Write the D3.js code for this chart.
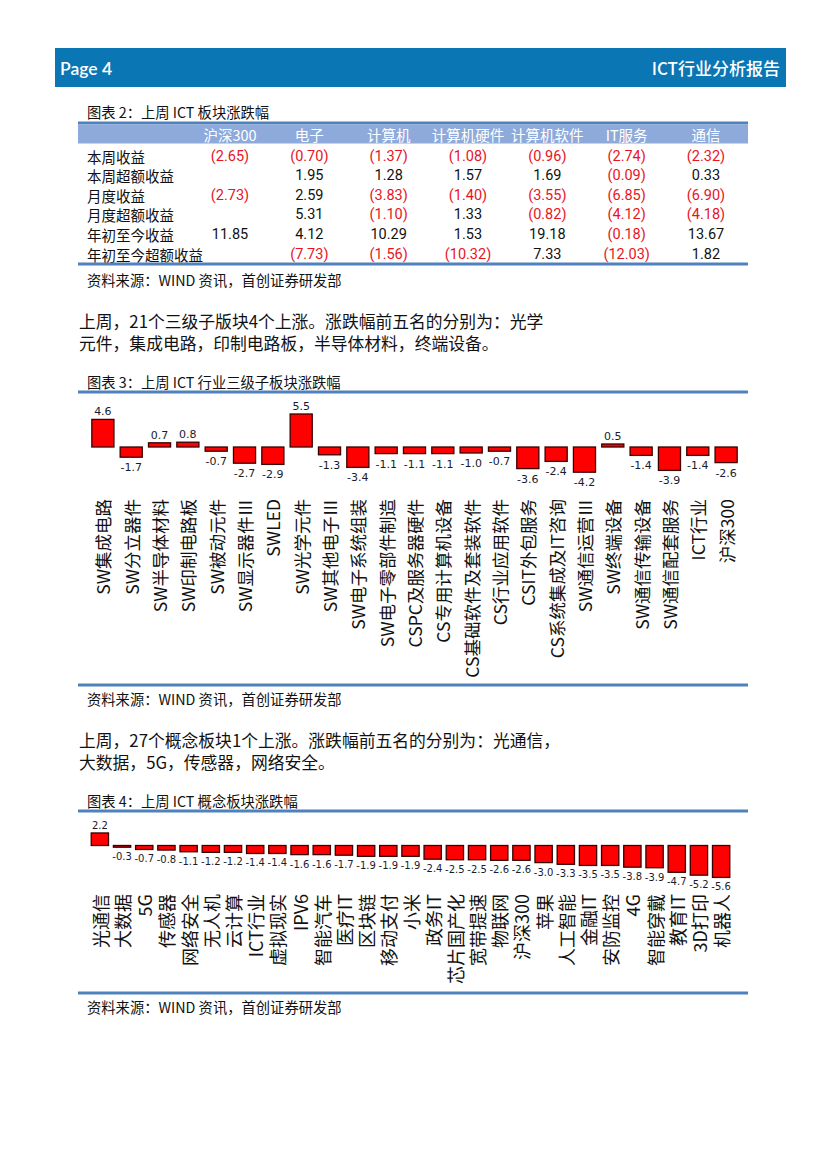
<!DOCTYPE html>
<html>
<head>
<meta charset="utf-8">
<script src="https://cdn.jsdelivr.net/npm/d3@7"></script>
<style>
  body { margin: 0; background: #fff; }
  svg { display: block; }
  text { font-family: "Noto Sans CJK SC", sans-serif; }
</style>
</head>
<body>
<div id="page"></div>
<script>
// 图表2 表格数据
var tableCols = ["沪深300", "电子", "计算机", "计算机硬件", "计算机软件", "IT服务", "通信"];
var tableRows = ["本周收益", "本周超额收益", "月度收益", "月度超额收益", "年初至今收益", "年初至今超额收益"];
var weekRet     = [-2.65, -0.70, -1.37, -1.08, -0.96, -2.74, -2.32];
var weekExcess  = [null, 1.95, 1.28, 1.57, 1.69, -0.09, 0.33];
var monthRet    = [-2.73, 2.59, -3.83, -1.40, -3.55, -6.85, -6.90];
var monthExcess = [null, 5.31, -1.10, 1.33, -0.82, -4.12, -4.18];
var ytdRet      = [11.85, 4.12, 10.29, 1.53, 19.18, -0.18, 13.67];
var ytdExcess   = [null, -7.73, -1.56, -10.32, 7.33, -12.03, 1.82];

// 图表3 三级子板块
var subNames = ["SW集成电路", "SW分立器件", "SW半导体材料", "SW印制电路板", "SW被动元件", "SW显示器件Ⅲ", "SWLED",
  "SW光学元件", "SW其他电子Ⅲ", "SW电子系统组装", "SW电子零部件制造", "CSPC及服务器硬件", "CS专用计算机设备",
  "CS基础软件及套装软件", "CS行业应用软件", "CSIT外包服务", "CS系统集成及IT咨询", "SW通信运营Ⅲ", "SW终端设备",
  "SW通信传输设备", "SW通信配套服务", "ICT行业", "沪深300"];
var subValues = [4.6, -1.7, 0.7, 0.8, -0.7, -2.7, -2.9, 5.5, -1.3, -3.4, -1.1, -1.1, -1.1, -1.0, -0.7, -3.6, -2.4,
  -4.2, 0.5, -1.4, -3.9, -1.4, -2.6];

// 图表4 概念板块
var conceptNames = ["光通信", "大数据", "5G", "传感器", "网络安全", "无人机", "云计算", "ICT行业", "虚拟现实", "IPV6",
  "智能汽车", "医疗IT", "区块链", "移动支付", "小米", "政务IT", "芯片国产化", "宽带提速", "物联网", "沪深300", "苹果",
  "人工智能", "金融IT", "安防监控", "4G", "智能穿戴", "教育IT", "3D打印", "机器人"];
var conceptValues = [2.2, -0.3, -0.7, -0.8, -1.1, -1.2, -1.2, -1.4, -1.4, -1.6, -1.6, -1.7, -1.9, -1.9, -1.9, -2.4,
  -2.5, -2.5, -2.6, -2.6, -3.0, -3.3, -3.5, -3.5, -3.8, -3.9, -4.7, -5.2, -5.6];

var W = 827, H = 1169;
var blueLine = "#4f81bd";
var locale = d3.formatLocale({ decimal: ".", thousands: ",", grouping: [3], currency: ["", ""], minus: "-" });
var fmt1 = locale.format(".1f"), fmt2 = locale.format(".2f");

var svg = d3.select("#page").append("svg").attr("width", W).attr("height", H);

// 页眉
svg.append("rect").attr("x", 55).attr("y", 48).attr("width", 731).attr("height", 39).attr("fill", "#0a76b3");
svg.append("text").attr("x", 60).attr("y", 75).attr("fill", "#fff")
  .style("font-family", "Lato, sans-serif").style("font-weight", "600").style("font-size", "17.5px").text("Page 4");
svg.append("text").attr("x", 780).attr("y", 75).attr("fill", "#fff").attr("text-anchor", "end")
  .style("font-weight", "500").style("font-size", "17px").text("ICT行业分析报告");

function hline(y) {
  svg.append("line").attr("x1", 78).attr("x2", 748).attr("y1", y).attr("y2", y)
    .attr("stroke", blueLine).attr("stroke-width", 3);
}
function smallText(x, y, s) {
  svg.append("text").attr("x", x).attr("y", y).attr("dominant-baseline", "central")
    .style("font-size", "14.3px").attr("fill", "#111").text(s);
}

// ---------- 图表2 表格 ----------
smallText(87, 111, "图表 2：上周 ICT 板块涨跌幅");
hline(123);
svg.append("rect").attr("x", 78).attr("y", 124.5).attr("width", 670).attr("height", 19).attr("fill", "#8eaadb");

var colX = d3.scalePoint().domain(tableCols).range([230, 706]);
var rowY = d3.scalePoint().domain(tableRows).range([156, 254]);
var tableData = [weekRet, weekExcess, monthRet, monthExcess, ytdRet, ytdExcess];

svg.selectAll(".colhead").data(tableCols).join("text")
  .attr("x", d => colX(d)).attr("y", 134).attr("text-anchor", "middle").attr("dominant-baseline", "central")
  .attr("fill", "#fff").style("font-size", "14.5px").text(d => d);

svg.selectAll(".rowhead").data(tableRows).join("text")
  .attr("x", 87).attr("y", d => rowY(d)).attr("dominant-baseline", "central")
  .attr("fill", "#111").style("font-size", "14.5px").text(d => d);

tableData.forEach(function (vals, ri) {
  svg.append("g").selectAll("text").data(vals).join("text")
    .attr("x", (d, i) => colX(tableCols[i])).attr("y", rowY(tableRows[ri]))
    .attr("text-anchor", "middle").attr("dominant-baseline", "central")
    .style("font-family", "Roboto, sans-serif").style("font-size", "14.5px")
    .attr("fill", d => d < 0 ? "#e8141e" : "#111")
    .text(d => d == null ? "" : (d < 0 ? "(" + fmt2(-d) + ")" : fmt2(d)));
});
hline(264);
smallText(87, 279, "资料来源：WIND 资讯，首创证券研发部");

// 段落
function para(y, s) {
  svg.append("text").attr("x", 79).attr("y", y).attr("dominant-baseline", "central")
    .style("font-size", "16.8px").attr("fill", "#111").text(s);
}
para(321, "上周，21个三级子版块4个上涨。涨跌幅前五名的分别为：光学");
para(343, "元件，集成电路，印制电路板，半导体材料，终端设备。");

// ---------- 柱状图 ----------
function barChart(o) {
  var x = d3.scaleBand().domain(o.names).range(o.xr).paddingInner(0.22).paddingOuter(0.1);
  var y = d3.scaleLinear().domain([-1, 1]).range([o.zero + o.unit, o.zero - o.unit]);
  var g = svg.append("g");
  g.selectAll("rect").data(o.values).join("rect")
    .attr("x", (d, i) => x(o.names[i]))
    .attr("y", d => y(Math.max(0, d)))
    .attr("width", x.bandwidth())
    .attr("height", d => Math.abs(y(d) - y(0)))
    .attr("fill", "#ff0000").attr("stroke", "#3a0000").attr("stroke-width", 1.3);
  g.selectAll(".val").data(o.values).join("text")
    .attr("x", (d, i) => x(o.names[i]) + x.bandwidth() / 2)
    .attr("y", d => d >= 0 ? y(d) - 4 : y(d) + o.valGap)
    .attr("text-anchor", "middle")
    .style("font-family", "'DejaVu Sans', sans-serif").style("font-size", o.valSize)
    .attr("fill", "#1b1b2b").text(d => fmt1(d));
  g.selectAll(".cat").data(o.names).join("text")
    .attr("transform", d => "translate(" + (x(d) + x.bandwidth() / 2) + "," + o.labelTop + ") rotate(-90)")
    .attr("text-anchor", "end").attr("dominant-baseline", "central")
    .style("font-size", o.catSize).attr("fill", "#111").text(d => d);
}

smallText(87, 381, "图表 3：上周 ICT 行业三级子板块涨跌幅");
hline(392);
barChart({ names: subNames, values: subValues, xr: [89, 740], zero: 447, unit: 6.0,
  valGap: 14, valSize: "11px", labelTop: 499, catSize: "17.5px" });
hline(685);
smallText(87, 698, "资料来源：WIND 资讯，首创证券研发部");

para(740, "上周，27个概念板块1个上涨。涨跌幅前五名的分别为：光通信，");
para(762, "大数据，5G，传感器，网络安全。");

smallText(87, 800, "图表 4：上周 ICT 概念板块涨跌幅");
hline(811);
barChart({ names: conceptNames, values: conceptValues, xr: [89, 732], zero: 845.5, unit: 5.7,
  valGap: 13, valSize: "10px", labelTop: 894, catSize: "18px" });
hline(993);
smallText(87, 1006, "资料来源：WIND 资讯，首创证券研发部");
</script>
</body>
</html>
